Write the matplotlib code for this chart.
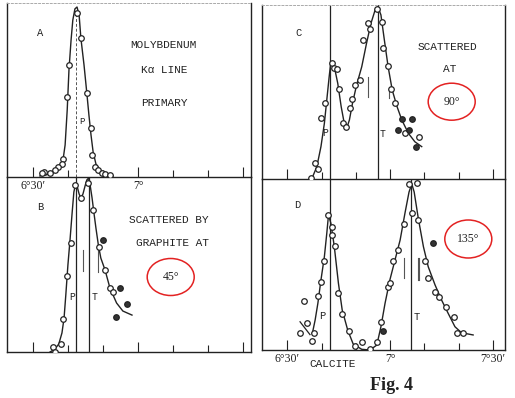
import matplotlib
matplotlib.use("Agg")
import matplotlib.pyplot as plt
from matplotlib.patches import Ellipse

# x: minutes of arc above 6 degrees (glancing angle, calcite), y: relative intensity (0-100)
major_minutes = [30, 60, 90]
minor_minutes = [40, 50, 70, 80]
left_tick_labels = ["6°30′", "7°", ""]
right_tick_labels = ["6°30′", "7°", "7°30′"]

# ---- Panel A: primary Mo K-alpha line ----
a_pts_x = [42.4, 43.5, 40.3, 39.5, 45.3, 46.4, 46.8, 38.6, 38.1, 37.1, 36.2, 34.8, 33.1, 32.4,
           47.6, 48.6, 49.5, 50.5, 51.9]
a_pts_y = [94.1, 79.7, 64.4, 46.1, 48.1, 28.2, 12.6, 10.3, 7.5, 5.7, 4.0, 2.5, 3.0, 2.3,
           5.9, 4.0, 2.3, 1.7, 1.1]
a_curve_x = [31.9, 34.8, 36.5, 37.6, 38.5, 39.1, 39.7, 40.2, 40.8, 41.3, 41.9, 42.5, 43.1, 43.6,
             44.5, 45.3, 45.9, 46.5, 47.1, 47.9, 49.1, 50.8, 52.8]
a_curve_y = [0.6, 1.7, 3.4, 5.7, 9.8, 18.4, 38.5, 61.5, 78.7, 90.2, 96.6, 97.7, 93.1, 79.9,
             64.4, 48.3, 35.6, 24.1, 14.4, 7.5, 4.0, 1.7, 0.6]

# ---- Panel B: scattered by graphite at 45 deg ----
b_pts_x = [41.9, 43.5, 45.7, 47.0, 40.7, 48.9, 39.5, 50.5, 51.9, 52.7, 38.6, 37.8, 35.7, 36.2]
b_pts_y = [95.4, 87.8, 96.4, 81.1, 62.5, 59.8, 43.4, 46.9, 36.4, 34.5, 18.7, 4.6, 3.0, 0.2]
b_fill_x = [49.8, 54.8, 56.9, 53.6]
b_fill_y = [64.0, 36.4, 27.3, 20.2]
b_curve_x = [34.8, 36.2, 37.3, 38.2, 38.8, 39.3, 39.9, 40.5, 41.1, 41.6, 42.1, 42.5, 43.1, 43.6,
             44.2, 44.8, 45.3, 45.8, 46.2, 46.8, 47.3, 47.9, 48.6, 49.3, 50.5, 51.9, 53.8,
             55.6, 58.2]
b_curve_y = [0.0, 1.7, 4.6, 10.9, 19.4, 32.6, 49.7, 64.0, 79.4, 91.4, 96.0, 94.9, 90.3, 88.0,
             90.3, 94.9, 98.3, 99.4, 96.0, 88.0, 80.0, 70.9, 61.1, 53.7, 46.9, 36.6, 28.0,
             23.4, 21.1]

# ---- Panel C: scattered at 90 deg ----
c_pts_x = [56.1, 57.5, 53.6, 54.1, 52.2, 58.0, 59.4, 42.9, 43.7, 44.4, 51.2, 49.7, 45.1, 41.0,
           48.8, 60.2, 61.4, 48.3, 39.8, 46.3, 47.0, 64.3, 68.4, 38.1, 39.0, 36.9]
c_pts_y = [97.5, 90.4, 89.5, 86.0, 79.9, 75.1, 64.9, 66.5, 63.6, 63.0, 56.9, 54.0, 51.6, 43.9,
           45.8, 51.6, 43.9, 40.6, 34.9, 32.4, 29.7, 26.3, 24.0, 9.0, 5.6, 0.3]
c_fill_x = [63.4, 66.3, 62.4, 65.5, 67.4]
c_fill_y = [34.3, 34.3, 28.2, 28.2, 18.2]
c_curve_x = [37.1, 38.6, 39.8, 40.8, 41.5, 42.2, 42.7, 43.7, 44.7, 45.7, 46.6, 47.3, 48.1, 49.0,
             50.2, 51.7, 53.1, 54.4, 55.6, 56.4, 57.3, 58.3, 59.4, 60.6, 62.0, 63.4, 65.3,
             67.2, 69.2]
c_curve_y = [0.0, 7.1, 18.6, 32.0, 45.4, 58.8, 67.4, 64.5, 55.0, 41.6, 32.0, 29.1, 33.9, 43.5,
             54.0, 64.5, 78.0, 89.5, 97.1, 99.0, 94.3, 79.9, 64.5, 51.1, 41.6, 33.9, 26.3,
             21.4, 18.6]

# ---- Panel D: scattered at 135 deg ----
d_pts_x = [65.5, 67.7, 66.3, 68.2, 64.1, 62.4, 60.9, 70.3, 70.9, 59.4, 59.9, 73.1, 74.2, 76.2,
           57.3, 78.6, 79.4, 81.3, 56.1, 54.1, 51.9, 49.7, 48.1, 46.0, 44.9, 43.9, 42.9, 42.9,
           41.8, 40.8, 39.8, 39.0, 35.0, 35.7, 33.7, 37.9, 37.1]
d_pts_y = [97.1, 97.8, 80.3, 76.0, 73.7, 58.5, 52.2, 52.2, 41.9, 37.0, 39.0, 34.1, 31.2, 25.3,
           16.5, 19.5, 9.8, 9.8, 4.9, 0.4, 4.9, 2.3, 11.3, 21.1, 33.5, 60.8, 67.3, 71.8,
           78.9, 52.2, 39.9, 31.6, 28.8, 15.6, 10.1, 10.1, 5.4]
d_fill_x = [72.6, 58.0]
d_fill_y = [62.7, 11.3]
d_curve_x = [37.3, 38.1, 38.9, 39.8, 40.8, 41.5, 42.0, 42.7, 43.7, 44.9, 46.0, 47.6, 49.2, 51.7,
             54.1, 56.1, 57.3, 58.5, 59.9, 61.4, 62.9, 64.3, 65.5, 66.3, 67.0, 68.2, 69.7,
             71.1, 73.1, 75.0, 76.9, 78.9, 80.8, 84.2]
d_curve_y = [9.8, 17.5, 27.3, 40.9, 54.6, 68.2, 78.9, 74.1, 60.4, 39.0, 23.4, 11.7, 3.5, 0.4,
             0.0, 2.9, 13.6, 27.3, 40.9, 52.6, 64.3, 79.9, 92.4, 97.1, 92.4, 77.0, 60.4,
             48.7, 38.0, 29.2, 21.5, 13.6, 10.1, 8.8]
d_tail_x = [33.7, 36.6]
d_tail_y = [16.5, 9.0]

# line positions (minutes above 6 deg)
p_line = 42.3
t_line_b = 46.0
t_line_c = 56.4
t_line_d = 66.0

W, H = 515, 398
fig = plt.figure(figsize=(W / 100, H / 100), dpi=100)
fig.patch.set_facecolor("white")

INK = "#222222"
MONO = ["Liberation Mono", "DejaVu Sans Mono"]
SERIF = ["Liberation Serif", "DejaVu Serif"]


def rect(l, r, t, b):
    return [l / W, 1 - b / H, (r - l) / W, (b - t) / H]


def ptxt(px, py, s, size=8, family=MONO, **kw):
    fig.text(px / W, 1 - py / H, s, fontsize=size, family=family, color=INK,
             ha="center", va="center", **kw)


def ell(px, py, w, h):
    fig.add_artist(Ellipse((px / W, 1 - py / H), w / W, h / H, transform=fig.transFigure,
                           fill=False, edgecolor="#e32222", linewidth=1.1))


def setup(ax, xlim, labels, top_dotted=False, show_top=True):
    ax.set_xlim(*xlim)
    ax.set_ylim(0, 100)
    ax.set_facecolor("none")
    ax.set_yticks([])
    ax.set_xticks(major_minutes)
    ax.set_xticks(minor_minutes, minor=True)
    if labels is None:
        ax.set_xticklabels([""] * len(major_minutes))
    else:
        ax.set_xticklabels(labels, family=SERIF, fontsize=8.5, color=INK)
    ax.tick_params(axis="x", which="major", direction="in", length=7, width=0.8, color=INK, pad=2)
    ax.tick_params(axis="x", which="minor", direction="in", length=5, width=0.8, color=INK)
    for s in ["left", "right", "bottom"]:
        ax.spines[s].set_color(INK)
        ax.spines[s].set_linewidth(1.0)
    if top_dotted:
        ax.spines["top"].set_color("#aaaaaa")
        ax.spines["top"].set_linestyle((0, (2, 2)))
        ax.spines["top"].set_linewidth(0.7)
    elif not show_top:
        ax.spines["top"].set_visible(False)
    else:
        ax.spines["top"].set_color(INK)


def draw(ax, cx, cy, px, py, fx=None, fy=None):
    ax.plot(cx, cy, color=INK, lw=1.0, zorder=2)
    ax.plot(px, py, "o", ms=4.0, mfc="white", mec=INK, mew=0.9, zorder=3)
    if fx is not None:
        ax.plot(fx, fy, "o", ms=4.0, mfc="#333333", mec=INK, mew=0.9, zorder=3)


left_xlim = (22.5, 92.2)
right_xlim = (22.6, 93.5)

axA = fig.add_axes(rect(7, 251, 3, 177))
axB = fig.add_axes(rect(7, 251, 177, 352))
axC = fig.add_axes(rect(262, 505, 5, 179))
axD = fig.add_axes(rect(262, 505, 179, 350))

setup(axA, left_xlim, left_tick_labels, top_dotted=True)
setup(axB, left_xlim, None, show_top=False)
setup(axC, right_xlim, None, top_dotted=True)
setup(axD, right_xlim, right_tick_labels, show_top=False)

# Panel A
axA.axvline(p_line, color="#555555", lw=0.7, ls=(0, (3, 2)), ymin=0, ymax=0.93, zorder=1)
draw(axA, a_curve_x, a_curve_y, a_pts_x, a_pts_y)

# Panel B
axB.axvline(p_line, color=INK, lw=0.9, zorder=1)
axB.axvline(t_line_b, color=INK, lw=0.9, zorder=1)
axB.plot([44.2, 44.2], [46.3, 58.3], color="#555555", lw=0.8)
axB.plot([48.6, 48.6], [45.7, 60.0], color="#555555", lw=0.8)
draw(axB, b_curve_x, b_curve_y, b_pts_x, b_pts_y, b_fill_x, b_fill_y)

# Panel C
axC.axvline(p_line, color=INK, lw=0.9, zorder=1)
axC.axvline(t_line_c, color=INK, lw=0.9, zorder=1)
axC.plot([53.4, 53.4], [47.1, 58.6], color="#555555", lw=0.8)
axC.plot([59.7, 59.7], [46.6, 51.0], color="#555555", lw=0.8)
draw(axC, c_curve_x, c_curve_y, c_pts_x, c_pts_y, c_fill_x, c_fill_y)

# Panel D
axD.axvline(p_line, color=INK, lw=0.9, zorder=1)
axD.axvline(t_line_d, color=INK, lw=0.9, zorder=1)
axD.plot([64.0, 64.0], [42.1, 53.8], color="#555555", lw=0.8)
axD.plot([68.0, 68.0], [40.9, 53.8], color="#555555", lw=0.8)
axD.plot([68.4, 68.4], [40.9, 53.8], color="#555555", lw=0.8)
axD.plot(d_tail_x, d_tail_y, color=INK, lw=0.9)
draw(axD, d_curve_x, d_curve_y, d_pts_x, d_pts_y, d_fill_x, d_fill_y)

# Panel texts
ptxt(40, 33, "A", 7.5)
ptxt(163, 45, "MOLYBDENUM", 8)
ptxt(164, 70, "Kα LINE", 8)
ptxt(164, 103, "PRIMARY", 8)
ptxt(82, 122, "P", 6.5)

ptxt(40, 207, "B", 7.5)
ptxt(169, 220, "SCATTERED BY", 8)
ptxt(172, 243, "GRAPHITE AT", 8)
ell(170.7, 277, 47, 37)
ptxt(170.7, 277, "45°", 8.5, family=SERIF)
ptxt(72, 297, "P", 7)
ptxt(95, 297, "T", 7)

ptxt(299, 33, "C", 7.5)
ptxt(447, 47, "SCATTERED", 8)
ptxt(450, 69, "AT", 8)
ell(451.7, 101.7, 47, 37)
ptxt(451.7, 101.7, "90°", 8.5, family=SERIF)
ptxt(325, 133, "P", 7)
ptxt(382.7, 134, "T", 7)

ptxt(297, 205, "D", 7.5)
ell(468.3, 239, 47, 38)
ptxt(468.3, 239, "135°", 8.5, family=SERIF)
ptxt(322.7, 316, "P", 7.5)
ptxt(416.7, 317, "T", 7.5)
ptxt(333, 364, "CALCITE", 8)

ptxt(391, 386, "Fig. 4", 13, family=SERIF, fontweight="bold")

fig.savefig("out.png", dpi=100, facecolor="white")
